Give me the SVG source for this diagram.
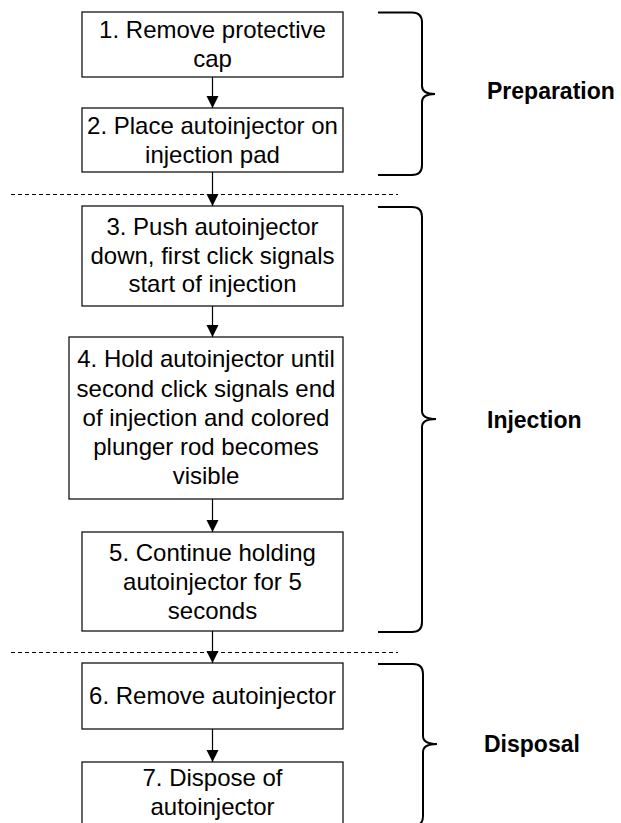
<svg xmlns="http://www.w3.org/2000/svg" width="621" height="823" viewBox="0 0 621 823">
<defs>
<marker id="ah" markerWidth="13" markerHeight="13" refX="12" refY="6.5" orient="auto" markerUnits="userSpaceOnUse">
<path d="M0,0.5 L12,6.5 L0,12.5 Z" fill="#000"/>
</marker>
<style>
.box{fill:#fff;stroke:#000;stroke-width:1.2}
.t{font-family:"Liberation Sans",Arial,sans-serif;font-size:24px;fill:#000;text-anchor:middle}
.lbl{font-family:"Liberation Sans",Arial,sans-serif;font-size:23px;font-weight:bold;fill:#000}
.conn{stroke:#000;stroke-width:1.2;fill:none;marker-end:url(#ah)}
.dash{stroke:#000;stroke-width:1;stroke-dasharray:4 3;fill:none}
.brace{stroke:#000;stroke-width:2;fill:none}
</style>
</defs>
<rect width="621" height="823" fill="#fff"/>
<g id="separators">
<line class="dash" x1="11" y1="194.5" x2="398" y2="194.5"/>
<line class="dash" x1="11" y1="652.5" x2="398" y2="652.5"/>
</g>
<g id="connectors">
<line class="conn" x1="212.5" y1="77" x2="212.5" y2="108"/>
<line class="conn" x1="212.5" y1="172" x2="212.5" y2="206"/>
<line class="conn" x1="212.5" y1="306" x2="212.5" y2="337"/>
<line class="conn" x1="212.5" y1="499" x2="212.5" y2="532"/>
<line class="conn" x1="212.5" y1="631" x2="212.5" y2="663"/>
<line class="conn" x1="212.5" y1="729" x2="212.5" y2="762"/>
</g>
<g id="n1">
<rect class="box" x="82" y="12" width="261" height="65"/>
<text class="t" x="212.5" y="38">1. Remove protective</text>
<text class="t" x="212.5" y="67">cap</text>
</g>
<g id="n2">
<rect class="box" x="82" y="108" width="261" height="64"/>
<text class="t" x="212.5" y="133.5">2. Place autoinjector on</text>
<text class="t" x="212.5" y="162.5">injection pad</text>
</g>
<g id="n3">
<rect class="box" x="82" y="206" width="261" height="100"/>
<text class="t" x="212.5" y="234.5">3. Push autoinjector</text>
<text class="t" x="212.5" y="263.5">down, first click signals</text>
<text class="t" x="212.5" y="292">start of injection</text>
</g>
<g id="n4">
<rect class="box" x="69" y="337" width="274" height="162"/>
<text class="t" x="206" y="367">4. Hold autoinjector until</text>
<text class="t" x="206" y="396.5">second click signals end</text>
<text class="t" x="206" y="425.5">of injection and colored</text>
<text class="t" x="206" y="454.5">plunger rod becomes</text>
<text class="t" x="206" y="483.5">visible</text>
</g>
<g id="n5">
<rect class="box" x="82" y="532" width="261" height="99"/>
<text class="t" x="212.5" y="561">5. Continue holding</text>
<text class="t" x="212.5" y="590">autoinjector for 5</text>
<text class="t" x="212.5" y="619">seconds</text>
</g>
<g id="n6">
<rect class="box" x="82" y="663" width="261" height="66"/>
<text class="t" x="212.5" y="704">6. Remove autoinjector</text>
</g>
<g id="n7">
<rect class="box" x="82" y="762" width="261" height="66"/>
<text class="t" x="212.5" y="786">7. Dispose of</text>
<text class="t" x="212.5" y="815">autoinjector</text>
</g>
<g id="preparation">
<path class="brace" d="M378,12.5 H412 Q422,12.5 422,22.5 V86 Q422,94 435,94 Q422,94 422,102 V165 Q422,175 412,175 H378"/>
<text class="lbl" x="487" y="99">Preparation</text>
</g>
<g id="injection">
<path class="brace" d="M378,207 H412 Q422,207 422,217 V411 Q422,419 436,419 Q422,419 422,427 V622 Q422,632 412,632 H378"/>
<text class="lbl" x="487" y="428">Injection</text>
</g>
<g id="disposal">
<path class="brace" d="M378,664 H413 Q423,664 423,674 V736 Q423,744 437,744 Q423,744 423,752 V816 Q423,826 413,826 H378"/>
<text class="lbl" x="484" y="752">Disposal</text>
</g>
</svg>
